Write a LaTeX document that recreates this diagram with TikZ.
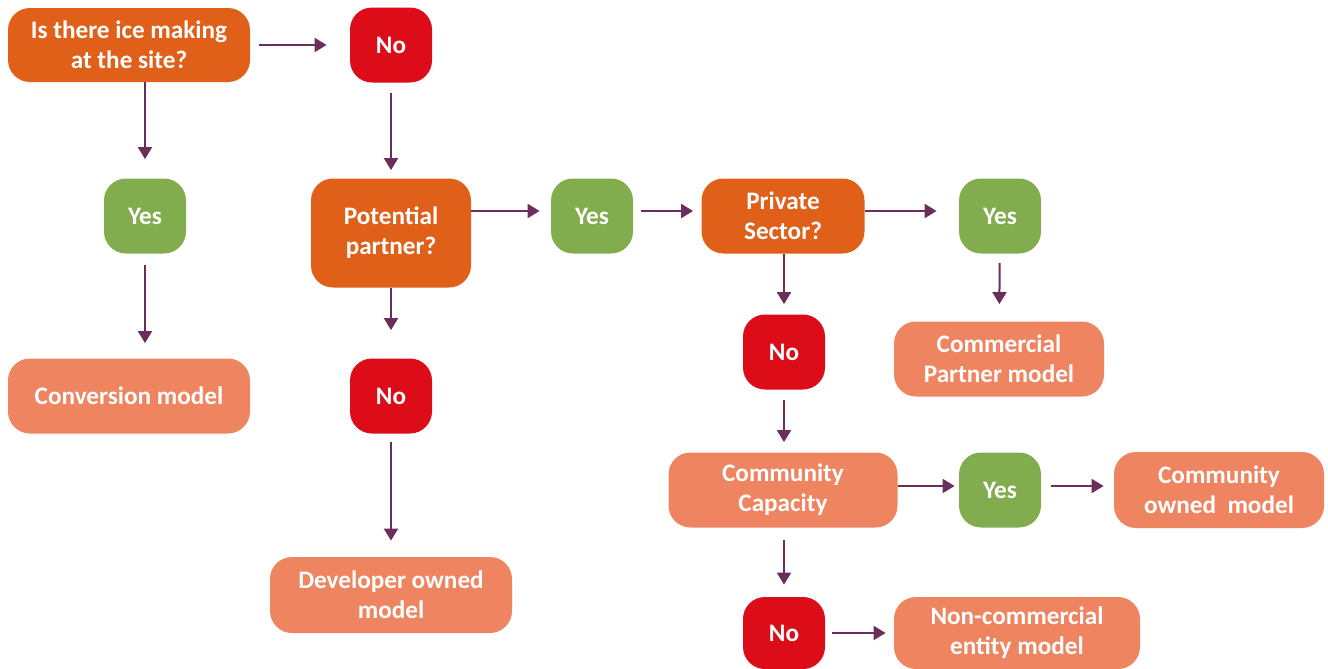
\documentclass[tikz,border=0pt]{standalone}
\usepackage{fontspec}
\setmainfont{Carlito}
\usetikzlibrary{arrows.meta}

\definecolor{askcol}{HTML}{E0601A}
\definecolor{nocol}{HTML}{DC0D18}
\definecolor{yescol}{HTML}{82AD4F}
\definecolor{modelcol}{HTML}{EF8461}
\definecolor{linkcol}{HTML}{6B2D5B}

\tikzset{
  box/.style={rounded corners=11pt, inner sep=0pt, align=center, text=white,
    font=\fontsize{12.6}{15}\selectfont\bfseries},
  ask/.style={box, fill=askcol},
  nobox/.style={box, fill=nocol, minimum width=41pt, minimum height=37.5pt},
  yesbox/.style={box, fill=yescol, minimum width=41pt, minimum height=37.5pt},
  model/.style={box, fill=modelcol},
  link/.style={linkcol, line width=1pt, -{Triangle[length=6pt,width=7pt]}}
}

\begin{document}
\begin{tikzpicture}[x=0.5pt, y=-0.5pt]
\useasboundingbox (0,0) rectangle (1328,669);

\node [ask, minimum width=121pt, minimum height=37pt] (Q1) at (129,45) {Is there ice making\\at the site?};
\node [nobox] (No1) at (391,45) {No};
\node [yesbox] (Yes1) at (145,216) {Yes};
\node [model, minimum width=121pt, minimum height=37.5pt] (Conv) at (129,396) {Conversion model};

\node [ask, minimum width=80pt, minimum height=54.5pt] (Pot) at (391,233) {Potential\\partner?};
\node [nobox] (No2) at (391,396) {No};
\node [model, minimum width=121pt, minimum height=38pt] (Dev) at (391,595) {Developer owned\\model};

\node [yesbox] (Yes2) at (592,216) {Yes};
\node [ask, minimum width=81.5pt, minimum height=37.5pt] (Priv) at (783,216) {Private\\Sector?};
\node [yesbox] (Yes3) at (1000,216) {Yes};
\node [model, minimum width=105pt, minimum height=37.5pt] (Comm) at (999,359) {Commercial\\Partner model};

\node [nobox] (No3) at (784,352) {No};
\node [model, minimum width=114.5pt, minimum height=37.5pt] (Cap) at (783,490) {Community\\Capacity};
\node [yesbox] (Yes4) at (1000,490) {Yes};
\node [model, minimum width=105pt, minimum height=38pt] (Own) at (1219,490) {Community\\owned\ \ model};

\node [nobox, minimum height=36pt] (No4) at (784,633) {No};
\node [model, minimum width=123pt, minimum height=36pt] (NonC) at (1017,633) {Non-commercial\\entity model};

% first question
\draw [link, shorten <=4.5pt, shorten >=11.5pt] (Q1) -- (No1);
\draw [link, shorten >=9.5pt] (Q1.south -| Yes1) -- (Yes1);
\draw [link, shorten <=5.5pt, shorten >=7.5pt] (Yes1) -- (Yes1 |- Conv.north);
\draw [link, shorten <=5pt, shorten >=4pt] (No1) -- (Pot);

% potential partner
\draw [link, shorten >=5.5pt] ([yshift=2.5pt]Pot.east |- Yes2) -- ([yshift=2.5pt]Yes2.west);
\draw [link, shorten >=14pt] (Pot) -- (No2);
\draw [link, shorten <=4pt, shorten >=8pt] (No2) -- (Dev);

% private sector
\draw [link, shorten <=4pt, shorten >=4pt] ([yshift=2.5pt]Yes2.east) -- ([yshift=2.5pt]Priv.west);
\draw [link, shorten >=11pt] ([yshift=2.5pt]Priv.east) -- ([yshift=2.5pt]Yes3.west);
\draw [link, shorten <=4.5pt, shorten >=8.5pt] (Yes3) -- (Comm);
\draw [link, shorten >=5pt] (Priv.south -| No3) -- (No3);

% community capacity
\draw [link, shorten <=5pt, shorten >=5pt] (No3) -- (Cap.north -| No3);
\draw [link, shorten >=2pt] ([yshift=2pt]Cap.east) -- ([yshift=2pt]Yes4.west);
\draw [link, shorten <=5pt, shorten >=5pt] ([yshift=2pt]Yes4.east) -- ([yshift=2pt]Own.west);
\draw [link, shorten <=6pt, shorten >=6pt] (Cap.south -| No4) -- (No4);
\draw [link, shorten <=3.5pt, shorten >=4pt] (No4) -- (NonC);

\end{tikzpicture}
\end{document}
